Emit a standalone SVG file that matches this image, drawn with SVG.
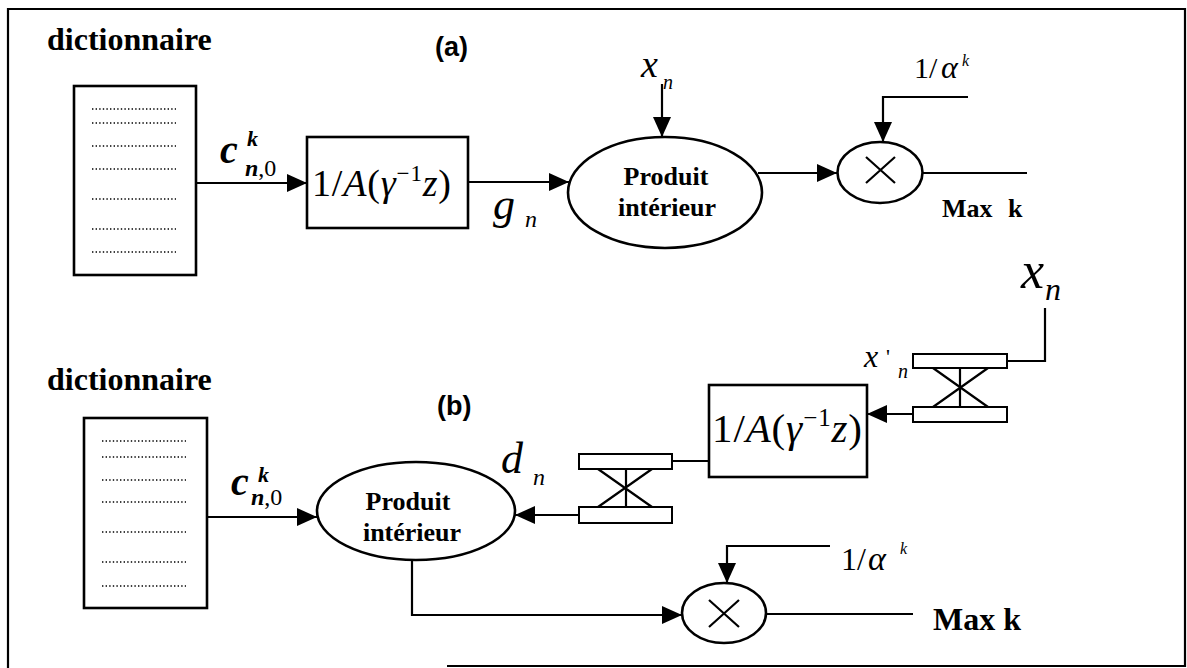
<svg xmlns="http://www.w3.org/2000/svg" width="1187" height="668" viewBox="0 0 1187 668">
<defs>
<marker id="ah" markerUnits="userSpaceOnUse" markerWidth="21" markerHeight="20" refX="20" refY="10" orient="auto">
<path d="M0,1 L20,10 L0,19 z" fill="#000"/>
</marker>
<style>
.ln{fill:none;stroke:#000;stroke-width:2.2}
.bx{fill:#fff;stroke:#000;stroke-width:2.6}
.dl{fill:#fff;stroke:#000;stroke-width:2}
.dot{stroke:#000;stroke-width:1.6;stroke-dasharray:1.4 2.2}
.serif{font-family:"Liberation Serif","Times New Roman",serif;fill:#000}
.b{font-weight:bold}
.i{font-style:italic}
.sans{font-family:"Liberation Sans",Arial,sans-serif;font-weight:bold;fill:#000}
</style>
</defs>
<rect width="1187" height="668" fill="#fff"/>
<g id="frame">
<path class="ln" d="M8,668 L8,9 L1185,9 L1185,667 M447,666 L1185,666" stroke-width="2.6"/>
</g>

<!-- (a) -->
<g id="dict-a">
<text class="serif b" x="47" y="50" font-size="32">dictionnaire</text>
<rect class="bx" x="74" y="86" width="122" height="189"/>
<path class="dot" d="M92,109H176M92,123H176M92,146H176M92,169H176M92,199H176M92,229H176M92,252H176"/>
</g>
<text class="sans" x="435" y="56" font-size="27">(a)</text>
<g id="filter-a">
<rect class="bx" x="307" y="137" width="161" height="91"/>
<text class="serif" x="312" y="196" font-size="38" textLength="139"><tspan>1/</tspan><tspan class="i">A</tspan><tspan>(</tspan><tspan class="i">γ</tspan><tspan font-size="23" dy="-15">−1</tspan><tspan class="i" dy="15">z</tspan><tspan>)</tspan></text>
</g>
<g id="prod-a">
<ellipse class="bx" cx="665" cy="192.5" rx="97" ry="55.5"/>
<text class="serif b" x="666" y="185" font-size="26" text-anchor="middle">Produit</text>
<text class="serif b" x="667" y="216" font-size="26" text-anchor="middle">intérieur</text>
</g>
<g id="mult-a">
<ellipse class="bx" cx="880" cy="172.5" rx="42.5" ry="30.5"/>
<path class="ln" d="M866,157L895,183M895,157L866,183" stroke-width="1.8"/>
</g>
<g id="labels-a">
<text class="serif b i" x="220" y="163" font-size="40">c</text>
<text class="serif b i" x="247" y="146" font-size="22">k</text>
<text class="serif" x="245" y="176" font-size="24"><tspan class="i b">n</tspan>,0</text>
<text class="serif i" x="493" y="219" font-size="44">g</text>
<text class="serif i" x="525" y="227" font-size="24">n</text>
<text class="serif i" x="641" y="77" font-size="38">x</text>
<text class="serif i" x="663" y="89" font-size="20">n</text>
<text class="serif" x="914" y="78" font-size="30">1/</text>
<text class="serif i" x="941" y="78" font-size="32">α</text>
<text class="serif i" x="962" y="66" font-size="16">k</text>
<text class="serif b" x="942" y="217" font-size="26">Max</text>
<text class="serif b" x="1008" y="217" font-size="26">k</text>
</g>

<!-- (b) -->
<g id="dict-b">
<text class="serif b" x="47" y="390" font-size="32">dictionnaire</text>
<rect class="bx" x="84" y="418" width="123" height="190"/>
<path class="dot" d="M102,441H186M102,457H186M102,480H186M102,502H186M102,532H186M102,562H186M102,586H186"/>
</g>
<text class="sans" x="437" y="415" font-size="27">(b)</text>
<g id="prod-b">
<ellipse class="bx" cx="416" cy="511" rx="99" ry="49"/>
<text class="serif b" x="408" y="510" font-size="26" text-anchor="middle">Produit</text>
<text class="serif b" x="412" y="541" font-size="26" text-anchor="middle">intérieur</text>
</g>
<g id="delay-b1">
<rect class="dl" x="579" y="454" width="93" height="15"/>
<rect class="dl" x="579" y="507" width="93" height="16"/>
<path class="ln" d="M598,469L652,507M652,469L598,507M626,469V507" stroke-width="1.8"/>
</g>
<g id="filter-b">
<rect class="bx" x="709" y="385" width="158" height="92"/>
<text class="serif" x="712" y="442" font-size="41" textLength="150"><tspan>1/</tspan><tspan class="i">A</tspan><tspan>(</tspan><tspan class="i">γ</tspan><tspan font-size="25" dy="-16">−1</tspan><tspan class="i" dy="16">z</tspan><tspan>)</tspan></text>
</g>
<g id="delay-b2">
<rect class="dl" x="913" y="354" width="94" height="14"/>
<rect class="dl" x="913" y="407" width="94" height="15"/>
<path class="ln" d="M933,368L988,407M988,368L933,407M960,368V407" stroke-width="1.8"/>
</g>
<g id="mult-b">
<ellipse class="bx" cx="724" cy="613" rx="42" ry="30"/>
<path class="ln" d="M709,600L739,627M739,600L709,627" stroke-width="1.8"/>
</g>
<g id="labels-b">
<text class="serif b i" x="231" y="495" font-size="40">c</text>
<text class="serif b i" x="258" y="482" font-size="22">k</text>
<text class="serif" x="251" y="505" font-size="24"><tspan class="i b">n</tspan>,0</text>
<text class="serif i" x="501" y="473" font-size="44">d</text>
<text class="serif i" x="533" y="485" font-size="24">n</text>
<text class="serif i" x="1021" y="288" font-size="52">x</text>
<text class="serif i" x="1045" y="300" font-size="32">n</text>
<text class="serif i" x="864" y="367" font-size="32">x</text>
<text class="serif" x="886" y="364" font-size="22">'</text>
<text class="serif i" x="898" y="378" font-size="20">n</text>
<text class="serif" x="841" y="570" font-size="32">1/</text>
<text class="serif i" x="868" y="570" font-size="34">α</text>
<text class="serif i" x="900" y="554" font-size="16">k</text>
<text class="serif b" x="933" y="630" font-size="32">Max k</text>
</g>

<g id="connectors">
<path class="ln" d="M196,183H307" marker-end="url(#ah)"/>
<path class="ln" d="M468,182H569" marker-end="url(#ah)"/>
<path class="ln" d="M662,84V137" marker-end="url(#ah)"/>
<path class="ln" d="M758,173H837" marker-end="url(#ah)"/>
<path class="ln" d="M968,97H883V142" marker-end="url(#ah)"/>
<path class="ln" d="M922,173H1027"/>
<path class="ln" d="M207,517H317" marker-end="url(#ah)"/>
<path class="ln" d="M579,515H515" marker-end="url(#ah)"/>
<path class="ln" d="M672,461H709"/>
<path class="ln" d="M1045,308V361H1007"/>
<path class="ln" d="M913,414H867" marker-end="url(#ah)"/>
<path class="ln" d="M412,560V615H682" marker-end="url(#ah)"/>
<path class="ln" d="M830,546H727V583" marker-end="url(#ah)"/>
<path class="ln" d="M766,614H913"/>
</g>
</svg>
